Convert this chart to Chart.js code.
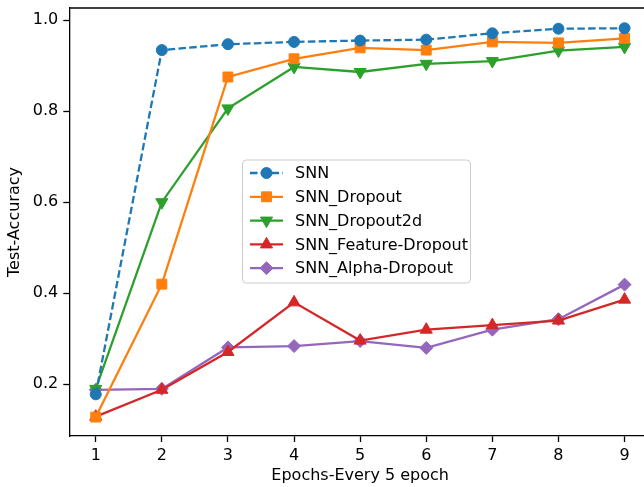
<!DOCTYPE html>
<html>
<head>
<meta charset="utf-8">
<script src="https://cdn.jsdelivr.net/npm/chart.js@4.4.1/dist/chart.umd.min.js"></script>
<style>
  body { margin: 0; overflow: hidden; background: #fff; }
  #wrap { width: 659px; height: 487px; }
</style>
</head>
<body>
<div id="wrap"><canvas id="accChart" width="659" height="487"></canvas></div>
<script>
const epochs = [1, 2, 3, 4, 5, 6, 7, 8, 9];
const yTicks = [0.2, 0.4, 0.6, 0.8, 1.0];

const snn            = [0.178, 0.934, 0.947, 0.952, 0.955, 0.957, 0.971, 0.981, 0.982];
const snnDropout     = [0.128, 0.420, 0.875, 0.915, 0.939, 0.934, 0.952, 0.950, 0.960];
const snnDropout2d   = [0.190, 0.600, 0.806, 0.897, 0.886, 0.904, 0.910, 0.933, 0.941];
const snnFeatureDrop = [0.129, 0.188, 0.271, 0.380, 0.296, 0.320, 0.330, 0.340, 0.386];
const snnAlphaDrop   = [0.188, 0.190, 0.281, 0.284, 0.295, 0.280, 0.320, 0.343, 0.419];

const FONT = "'DejaVu Sans', sans-serif";

function pts(vals) {
  return epochs.map((e, i) => ({ x: e, y: vals[i] }));
}

function series(label, vals, color, style, radius, extra) {
  return Object.assign({
    label: label,
    data: pts(vals),
    borderColor: color,
    backgroundColor: color,
    borderWidth: 2.3,
    pointStyle: style,
    pointRadius: radius,
    pointHoverRadius: radius,
    pointBorderWidth: 1,
    pointBorderColor: color,
    pointBackgroundColor: color,
    tension: 0,
    fill: false
  }, extra || {});
}

// matplotlib-like legend inside the plot: line sample + marker + label
const innerLegend = {
  id: 'innerLegend',
  afterDatasetsDraw(chart) {
    const ctx = chart.ctx;
    const box = { x: 242.5, y: 160, w: 228, h: 123, r: 4 };
    ctx.save();
    ctx.beginPath();
    ctx.roundRect(box.x, box.y, box.w, box.h, box.r);
    ctx.fillStyle = 'rgba(255,255,255,0.8)';
    ctx.fill();
    ctx.lineWidth = 1;
    ctx.strokeStyle = '#cccccc';
    ctx.stroke();

    chart.data.datasets.forEach((ds, i) => {
      const y = 173 + i * 23.8;
      ctx.beginPath();
      ctx.setLineDash(ds.borderDash || []);
      ctx.lineWidth = ds.borderWidth;
      ctx.strokeStyle = ds.borderColor;
      ctx.moveTo(250, y);
      ctx.lineTo(283, y);
      ctx.stroke();
      ctx.setLineDash([]);
      ctx.lineWidth = ds.pointBorderWidth;
      ctx.fillStyle = ds.pointBackgroundColor;
      ctx.strokeStyle = ds.pointBorderColor;
      Chart.helpers.drawPoint(ctx, {
        pointStyle: ds.pointStyle,
        rotation: ds.pointRotation || 0,
        radius: ds.pointRadius,
        borderWidth: ds.pointBorderWidth
      }, 266.5, y);
      ctx.fillStyle = '#000';
      ctx.font = '16px ' + FONT;
      ctx.textBaseline = 'middle';
      ctx.textAlign = 'left';
      ctx.fillText(ds.label, 295, y + 1);
    });
    ctx.restore();
  }
};

// top spine
const topSpine = {
  id: 'topSpine',
  afterDraw(chart) {
    const a = chart.chartArea;
    const ctx = chart.ctx;
    ctx.save();
    ctx.strokeStyle = '#000';
    ctx.lineWidth = 1.3;
    ctx.beginPath();
    ctx.moveTo(a.left, a.top);
    ctx.lineTo(a.right, a.top);
    ctx.stroke();
    ctx.restore();
  }
};

const ctx = document.getElementById('accChart').getContext('2d');
new Chart(ctx, {
  type: 'line',
  data: {
    datasets: [
      series('SNN', snn, '#1f77b4', 'circle', 5.5, { borderDash: [7.5, 3.3] }),
      series('SNN_Dropout', snnDropout, '#ff7f0e', 'rect', 7),
      series('SNN_Dropout2d', snnDropout2d, '#2ca02c', 'triangle', 7, { pointRotation: 180 }),
      series('SNN_Feature-Dropout', snnFeatureDrop, '#d62728', 'triangle', 7),
      series('SNN_Alpha-Dropout', snnAlphaDrop, '#9467bd', 'rectRot', 6.5)
    ]
  },
  options: {
    responsive: false,
    animation: false,
    layout: { padding: { top: 7.3, right: 0, bottom: 0, left: 0 } },
    plugins: {
      legend: { display: false },
      tooltip: { enabled: false }
    },
    scales: {
      x: {
        type: 'linear',
        min: 0.6,
        max: 9.4,
        afterBuildTicks: (s) => { s.ticks = epochs.map(v => ({ value: v })); },
        afterFit: (s) => { s.height = 51; s.paddingLeft = 0; s.paddingRight = 0; },
        ticks: { color: '#000', font: { family: FONT, size: 16 }, padding: 4, maxRotation: 0 },
        grid: { drawOnChartArea: false, drawTicks: true, tickLength: 6, tickColor: '#000', tickWidth: 1.3 },
        border: { display: true, color: '#000', width: 1.3 },
        title: { display: true, text: 'Epochs-Every 5 epoch', color: '#000', font: { family: FONT, size: 16 }, padding: { top: 2, bottom: 2 } }
      },
      y: {
        min: 0.0865,
        max: 1.0265,
        afterBuildTicks: (s) => { s.ticks = yTicks.map(v => ({ value: v })); },
        afterFit: (s) => { s.width = 69.3; s.paddingTop = 0; s.paddingBottom = 0; },
        ticks: { color: '#000', font: { family: FONT, size: 16 }, padding: 5, callback: v => v.toFixed(1) },
        grid: { drawOnChartArea: false, drawTicks: true, tickLength: 6, tickColor: '#000', tickWidth: 1.3 },
        border: { display: true, color: '#000', width: 1.3 },
        title: { display: true, text: 'Test-Accuracy', color: '#000', font: { family: FONT, size: 16 }, padding: { top: 5, bottom: 2 } }
      }
    }
  },
  plugins: [innerLegend, topSpine]
});
</script>
</body>
</html>
